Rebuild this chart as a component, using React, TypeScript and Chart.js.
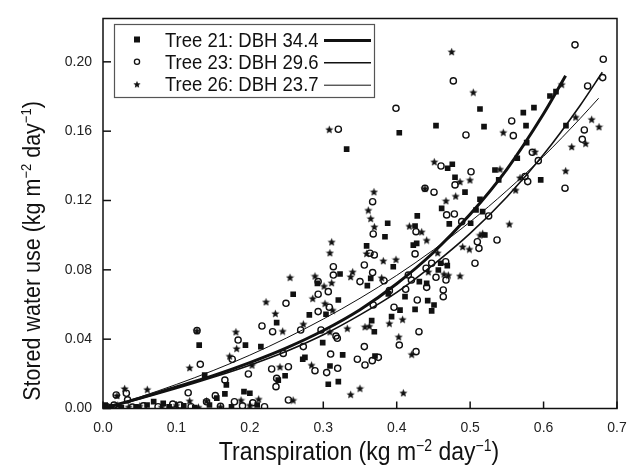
import React, { useEffect, useRef } from 'react';
import { Chart, registerables } from 'chart.js';

Chart.register(...registerables);

const FONT = '"Liberation Sans", Arial, Helvetica, sans-serif';

const X_MIN = 0;
const X_MAX = 0.7;
const Y_MIN = 0;
const Y_MAX = 0.225;
const X_TICKS = [0, 0.1, 0.2, 0.3, 0.4, 0.5, 0.6, 0.7];
const Y_TICKS = [0, 0.04, 0.08, 0.12, 0.16, 0.2];

const SERIES_NAMES = ['Tree 21: DBH 34.4', 'Tree 23: DBH 29.6', 'Tree 26: DBH 23.7'];
const X_TITLE = [
  { t: 'Transpiration (kg m', sup: false },
  { t: '\u22122', sup: true },
  { t: ' day', sup: false },
  { t: '\u22121', sup: true },
  { t: ')', sup: false },
];
const Y_TITLE = [
  { t: 'Stored water use (kg m', sup: false },
  { t: '\u22122', sup: true },
  { t: ' day', sup: false },
  { t: '\u22121', sup: true },
  { t: ')', sup: false },
];

// Tree 21 (filled squares)
const TREE21 = [
  [0.003, 0.002], [0.012, 0.001], [0.025, 0.0005], [0.045, 0.001], [0.06, 0.002], [0.069, 0.004],
  [0.082, 0.003], [0.09, 0.001], [0.11, 0.0015], [0.125, 0.0005], [0.131, 0.0366], [0.1385, 0.0193],
  [0.145, 0.002], [0.155, 0.006], [0.166, 0.0084], [0.168, 0.0136], [0.175, 0.001], [0.192, 0.0097],
  [0.194, 0.0366], [0.2, 0.0088], [0.21, 0.002], [0.215, 0.0357], [0.2365, 0.0495], [0.2387, 0.0164],
  [0.248, 0.0189], [0.259, 0.0659], [0.272, 0.0284], [0.275, 0.0295], [0.281, 0.054], [0.292, 0.0722],
  [0.2992, 0.038], [0.3037, 0.0544], [0.3068, 0.014], [0.3091, 0.0245], [0.3205, 0.0626], [0.3205, 0.0155],
  [0.3228, 0.0776], [0.3264, 0.0309], [0.3318, 0.1496], [0.359, 0.0938], [0.36, 0.0709], [0.3646, 0.0751],
  [0.3659, 0.0507], [0.3695, 0.0443], [0.3704, 0.0303], [0.384, 0.0991], [0.3877, 0.1069], [0.3886, 0.0661],
  [0.393, 0.053], [0.3953, 0.0818], [0.4035, 0.1591], [0.4045, 0.0568], [0.4113, 0.0645], [0.4226, 0.0943],
  [0.425, 0.1053], [0.425, 0.0572], [0.4272, 0.0953], [0.428, 0.1111], [0.4308, 0.0732], [0.4408, 0.0722],
  [0.4422, 0.0622], [0.4476, 0.0563], [0.4508, 0.0597], [0.4535, 0.1632], [0.4567, 0.0799], [0.4599, 0.0838],
  [0.4612, 0.1155], [0.4689, 0.0824], [0.4694, 0.1386], [0.4716, 0.1065], [0.4757, 0.1409], [0.4794, 0.1334],
  [0.493, 0.1248], [0.5007, 0.1069], [0.508, 0.1145], [0.5134, 0.1728], [0.5134, 0.1207], [0.517, 0.1136],
  [0.5189, 0.1626], [0.52, 0.1001], [0.5338, 0.1376], [0.5389, 0.1319], [0.5642, 0.1444], [0.5724, 0.1707],
  [0.5761, 0.1632], [0.577, 0.1534], [0.5869, 0.1736], [0.5961, 0.1319], [0.6087, 0.1803], [0.6169, 0.1828],
  [0.6305, 0.1632],
];

// Tree 23 (open circles)
const TREE23 = [
  [0.005, 0.001], [0.015, 0.002], [0.018, 0.0078], [0.0318, 0.0088], [0.0335, 0.005], [0.04, 0.0008],
  [0.055, 0.0015], [0.075, 0.001], [0.095, 0.0025], [0.105, 0.002], [0.116, 0.0091], [0.12, 0.001],
  [0.128, 0.0449], [0.1325, 0.0255], [0.141, 0.0039], [0.153, 0.0074], [0.16, 0.0012], [0.166, 0.0164],
  [0.176, 0.0284], [0.179, 0.0039], [0.184, 0.0395], [0.19, 0.0015], [0.198, 0.0199], [0.204, 0.0033],
  [0.2165, 0.0476], [0.22, 0.001], [0.2297, 0.0228], [0.231, 0.0443], [0.2356, 0.0126], [0.2365, 0.0174],
  [0.2455, 0.0318], [0.2492, 0.0607], [0.2525, 0.0049], [0.2525, 0.0241], [0.2692, 0.0453], [0.2728, 0.0357],
  [0.2887, 0.0218], [0.293, 0.0559], [0.293, 0.0659], [0.293, 0.0732], [0.2969, 0.0453], [0.3046, 0.0207],
  [0.3068, 0.0674], [0.3082, 0.0584], [0.31, 0.0314], [0.3137, 0.077], [0.3137, 0.0818], [0.3173, 0.0418],
  [0.3191, 0.0405], [0.3196, 0.0232], [0.3205, 0.1611], [0.3464, 0.0284], [0.35, 0.0732], [0.3559, 0.0828],
  [0.3559, 0.0357], [0.3568, 0.0251], [0.3636, 0.0896], [0.3667, 0.0276], [0.3672, 0.1193], [0.3672, 0.0784],
  [0.368, 0.1007], [0.368, 0.0597], [0.3695, 0.0886], [0.375, 0.0295], [0.3827, 0.0737], [0.39, 0.068],
  [0.3963, 0.0584], [0.399, 0.1732], [0.4035, 0.0366], [0.4122, 0.0688], [0.4158, 0.077], [0.42, 0.0741],
  [0.425, 0.0892], [0.4263, 0.102], [0.4263, 0.0328], [0.428, 0.0626], [0.4303, 0.0443], [0.4385, 0.127],
  [0.44, 0.0809], [0.4408, 0.0699], [0.4476, 0.0838], [0.4508, 0.1248], [0.4535, 0.0757], [0.4603, 0.1399],
  [0.4634, 0.0684], [0.4634, 0.0645], [0.4667, 0.0847], [0.4671, 0.0741], [0.468, 0.1117], [0.4771, 0.189],
  [0.4785, 0.1122], [0.4794, 0.129], [0.4885, 0.1078], [0.4943, 0.1578], [0.5012, 0.1366], [0.5066, 0.0838],
  [0.5098, 0.0962], [0.512, 0.0924], [0.5252, 0.1111], [0.5366, 0.0972], [0.5566, 0.1659], [0.5588, 0.1574],
  [0.5747, 0.1338], [0.5784, 0.1309], [0.5847, 0.1478], [0.5928, 0.143], [0.6292, 0.1271], [0.6428, 0.2098],
  [0.6527, 0.1553], [0.6555, 0.1607], [0.66, 0.1861], [0.6805, 0.1909], [0.6813, 0.2015],
];

// Tree 26 (filled stars)
const TREE26 = [
  [0.008, 0.001], [0.019, 0.0075], [0.02, 0.002], [0.0295, 0.0116], [0.035, 0.001], [0.05, 0.0015],
  [0.0603, 0.0111], [0.08, 0.001], [0.1, 0.002], [0.118, 0.0236], [0.118, 0.0045], [0.128, 0.0449],
  [0.13, 0.0008], [0.141, 0.0045], [0.16, 0.001], [0.1725, 0.0303], [0.181, 0.0443], [0.182, 0.0347],
  [0.188, 0.0049], [0.2, 0.002], [0.203, 0.0251], [0.212, 0.0055], [0.222, 0.0616], [0.2347, 0.0549],
  [0.241, 0.0241], [0.2447, 0.0447], [0.2547, 0.0757], [0.259, 0.0049], [0.2728, 0.0488], [0.284, 0.0251],
  [0.2856, 0.0636], [0.2887, 0.0765], [0.301, 0.0707], [0.3023, 0.0607], [0.3082, 0.1611], [0.309, 0.0899],
  [0.309, 0.0443], [0.3114, 0.0726], [0.3114, 0.0962], [0.3128, 0.0568], [0.3327, 0.0463], [0.3373, 0.0761],
  [0.3373, 0.0082], [0.34, 0.0789], [0.35, 0.0117], [0.3568, 0.0472], [0.359, 0.0895], [0.3613, 0.1145],
  [0.3627, 0.0476], [0.3646, 0.1097], [0.369, 0.1251], [0.3695, 0.1049], [0.3795, 0.0755], [0.3817, 0.0853],
  [0.39, 0.0492], [0.399, 0.0861], [0.4027, 0.0414], [0.408, 0.0515], [0.409, 0.0091], [0.4172, 0.1053],
  [0.4204, 0.0313], [0.434, 0.102], [0.4385, 0.127], [0.4408, 0.0972], [0.443, 0.0789], [0.4512, 0.1424],
  [0.4558, 0.0899], [0.4644, 0.0776], [0.4671, 0.1199], [0.4703, 0.077], [0.4748, 0.2059], [0.4803, 0.1226],
  [0.4862, 0.1309], [0.4862, 0.0766], [0.4898, 0.0934], [0.4989, 0.092], [0.4998, 0.1319], [0.5043, 0.1825],
  [0.5134, 0.1001], [0.517, 0.1011], [0.5406, 0.1382], [0.5451, 0.1594], [0.5534, 0.1065], [0.562, 0.1261],
  [0.5679, 0.1332], [0.5883, 0.1482], [0.6247, 0.1871], [0.6301, 0.1372], [0.6383, 0.1511], [0.6437, 0.1682],
  [0.6573, 0.153], [0.6655, 0.1669], [0.6755, 0.1626],
];

// Fitted curves
const CURVE21_X = [0, 0.05, 0.1, 0.15, 0.2, 0.25, 0.3, 0.35, 0.4, 0.45, 0.5, 0.55, 0.6, 0.63];
const CURVE21_Y = [0, 0.006, 0.0125, 0.019, 0.0265, 0.035, 0.045, 0.057, 0.072, 0.09, 0.112, 0.138, 0.17, 0.192];
const CURVE23_X = [0, 0.05, 0.1, 0.15, 0.2, 0.25, 0.3, 0.35, 0.4, 0.45, 0.5, 0.55, 0.6, 0.65, 0.68];
const CURVE23_Y = [0, 0.0055, 0.0115, 0.018, 0.025, 0.033, 0.0425, 0.054, 0.067, 0.083, 0.101, 0.122, 0.1465, 0.175, 0.194];
const CURVE26_X = [0, 0.05, 0.1, 0.15, 0.2, 0.25, 0.3, 0.35, 0.4, 0.45, 0.5, 0.55, 0.6, 0.65, 0.675];
const CURVE26_Y = [0, 0.0066, 0.0139, 0.0219, 0.0308, 0.0407, 0.0516, 0.0636, 0.0768, 0.0915, 0.1077, 0.1257, 0.1455, 0.1674, 0.179];

const INK = '#111111';

function makeStar(size: number) {
  const c = document.createElement('canvas');
  c.width = size;
  c.height = size;
  const g = c.getContext('2d') as CanvasRenderingContext2D;
  const cx = size / 2;
  const cy = size / 2 + 0.5;
  const R = size / 2 - 0.2;
  const r = R * 0.45;
  g.beginPath();
  for (let i = 0; i < 10; i++) {
    const rad = i % 2 === 0 ? R : r;
    const a = -Math.PI / 2 + (i * Math.PI) / 5;
    const px = cx + rad * Math.cos(a);
    const py = cy + rad * Math.sin(a);
    if (i === 0) g.moveTo(px, py);
    else g.lineTo(px, py);
  }
  g.closePath();
  g.fillStyle = INK;
  g.fill();
  return c;
}

type Part = { t: string; sup: boolean };

function drawRich(
  ctx: CanvasRenderingContext2D,
  parts: Part[],
  x: number,
  y: number,
  rotate: boolean,
  size: number,
  supSize: number,
  rise: number,
  sy: number
) {
  ctx.save();
  ctx.translate(x, y);
  if (rotate) ctx.rotate(-Math.PI / 2);
  ctx.scale(1, sy);
  let total = 0;
  const widths: number[] = [];
  parts.forEach((p) => {
    ctx.font = `${p.sup ? supSize : size}px ${FONT}`;
    const w = ctx.measureText(p.t).width;
    widths.push(w);
    total += w;
  });
  let cx = -total / 2;
  ctx.fillStyle = INK;
  ctx.textAlign = 'left';
  ctx.textBaseline = 'alphabetic';
  parts.forEach((p, i) => {
    ctx.font = `${p.sup ? supSize : size}px ${FONT}`;
    ctx.fillText(p.t, cx, p.sup ? -rise : 0);
    cx += widths[i];
  });
  ctx.restore();
}

function zeroPad(s: any) {
  s.paddingLeft = 0;
  s.paddingRight = 0;
  s.paddingTop = 0;
  s.paddingBottom = 0;
}

export default function App() {
  const ref = useRef<HTMLCanvasElement | null>(null);

  useEffect(() => {
    const canvas = ref.current;
    if (!canvas) return;
    const star = makeStar(9);
    const legendStar = makeStar(8);

    const decor = {
      id: 'decor',
      afterDraw(chart: any) {
        const ctx: CanvasRenderingContext2D = chart.ctx;
        const { left, right, top, bottom } = chart.chartArea;
        const xs = chart.scales.x;
        const ys = chart.scales.y;
        ctx.save();
        // frame
        ctx.strokeStyle = INK;
        ctx.lineWidth = 1.5;
        ctx.strokeRect(left, top, right - left, bottom - top);
        // inward ticks
        X_TICKS.forEach((v) => {
          const px = xs.getPixelForValue(v);
          ctx.beginPath();
          ctx.moveTo(px, bottom);
          ctx.lineTo(px, bottom - 7);
          ctx.stroke();
        });
        Y_TICKS.forEach((v) => {
          const py = ys.getPixelForValue(v);
          ctx.beginPath();
          ctx.moveTo(left, py);
          ctx.lineTo(left + 8, py);
          ctx.stroke();
        });
        // legend
        const lx = 114.5;
        const ly = 24.5;
        ctx.fillStyle = '#ffffff';
        ctx.fillRect(lx, ly, 260, 73);
        ctx.strokeStyle = '#555555';
        ctx.lineWidth = 1.2;
        ctx.strokeRect(lx, ly, 260, 73);
        const rows = [39.5, 61.8, 84.2];
        const widthsL = [3, 1.6, 1];
        rows.forEach((ry, i) => {
          ctx.fillStyle = INK;
          ctx.strokeStyle = INK;
          if (i === 0) {
            ctx.fillRect(134, ry - 3, 6, 6);
          } else if (i === 1) {
            ctx.lineWidth = 1.3;
            ctx.beginPath();
            ctx.arc(137, ry, 2.6, 0, Math.PI * 2);
            ctx.stroke();
          } else {
            ctx.drawImage(legendStar, 133, ry - 4);
          }
          ctx.save();
          ctx.translate(165, ry + 7);
          ctx.scale(1, 1.1);
          ctx.font = `18.5px ${FONT}`;
          ctx.fillStyle = INK;
          ctx.textAlign = 'left';
          ctx.textBaseline = 'alphabetic';
          ctx.fillText(SERIES_NAMES[i], 0, 0);
          ctx.restore();
          ctx.lineWidth = widthsL[i];
          ctx.beginPath();
          ctx.moveTo(324, ry + 1);
          ctx.lineTo(371, ry + 1);
          ctx.stroke();
        });
        // axis titles
        drawRich(ctx, X_TITLE, 359, 460, false, 23, 14, 8, 1.12);
        drawRich(ctx, Y_TITLE, 40, 251, true, 21.5, 13, 8, 1.15);
        ctx.restore();
      },
    };

    const chart = new Chart(canvas, {
      type: 'scatter',
      data: {
        datasets: [
          {
            label: 'fit21',
            data: CURVE21_X.map((x, i) => ({ x, y: CURVE21_Y[i] })),
            showLine: true,
            borderColor: INK,
            borderWidth: 3,
            pointRadius: 0,
            cubicInterpolationMode: 'monotone',
          },
          {
            label: 'fit23',
            data: CURVE23_X.map((x, i) => ({ x, y: CURVE23_Y[i] })),
            showLine: true,
            borderColor: INK,
            borderWidth: 1.6,
            pointRadius: 0,
            cubicInterpolationMode: 'monotone',
          },
          {
            label: 'fit26',
            data: CURVE26_X.map((x, i) => ({ x, y: CURVE26_Y[i] })),
            showLine: true,
            borderColor: INK,
            borderWidth: 1,
            pointRadius: 0,
            cubicInterpolationMode: 'monotone',
          },
          {
            label: SERIES_NAMES[0],
            data: TREE21.map(([x, y]) => ({ x, y })),
            pointStyle: 'rect',
            pointRadius: 4,
            backgroundColor: INK,
            borderColor: INK,
            borderWidth: 0,
          },
          {
            label: SERIES_NAMES[1],
            data: TREE23.map(([x, y]) => ({ x, y })),
            pointStyle: 'circle',
            pointRadius: 3.1,
            backgroundColor: 'rgba(0,0,0,0)',
            borderColor: INK,
            borderWidth: 1.4,
          },
          {
            label: SERIES_NAMES[2],
            data: TREE26.map(([x, y]) => ({ x, y })),
            pointStyle: star,
            pointRadius: 4,
            backgroundColor: INK,
            borderColor: INK,
          },
        ] as any,
      },
      options: {
        animation: false,
        responsive: true,
        maintainAspectRatio: false,
        layout: { padding: { left: 0, top: 18.5, right: 12, bottom: 0 } },
        plugins: { legend: { display: false }, tooltip: { enabled: false } },
        scales: {
          x: {
            type: 'linear',
            min: X_MIN,
            max: X_MAX,
            afterBuildTicks: (s: any) => {
              s.ticks = X_TICKS.map((v) => ({ value: v }));
            },
            afterFit: (s: any) => {
              s.height = 63.5;
              zeroPad(s);
            },
            ticks: {
              callback: (v: any) => Number(v).toFixed(1),
              font: { family: FONT, size: 14 },
              color: '#222222',
              padding: 11,
              maxRotation: 0,
              autoSkip: false,
            },
            grid: { display: false, drawTicks: false },
            border: { display: false },
          },
          y: {
            type: 'linear',
            min: Y_MIN,
            max: Y_MAX,
            afterBuildTicks: (s: any) => {
              s.ticks = Y_TICKS.map((v) => ({ value: v }));
            },
            afterFit: (s: any) => {
              s.width = 103;
              zeroPad(s);
            },
            ticks: {
              callback: (v: any) => Number(v).toFixed(2),
              font: { family: FONT, size: 14 },
              color: '#222222',
              padding: 11,
              autoSkip: false,
            },
            grid: { display: false, drawTicks: false },
            border: { display: false },
          },
        },
      } as any,
      plugins: [decor],
    });
    return () => chart.destroy();
  }, []);

  return (
    <div style={{ position: 'fixed', left: 0, top: 0, width: 629, height: 472, background: '#fff' }}>
      <canvas ref={ref} />
    </div>
  );
}
